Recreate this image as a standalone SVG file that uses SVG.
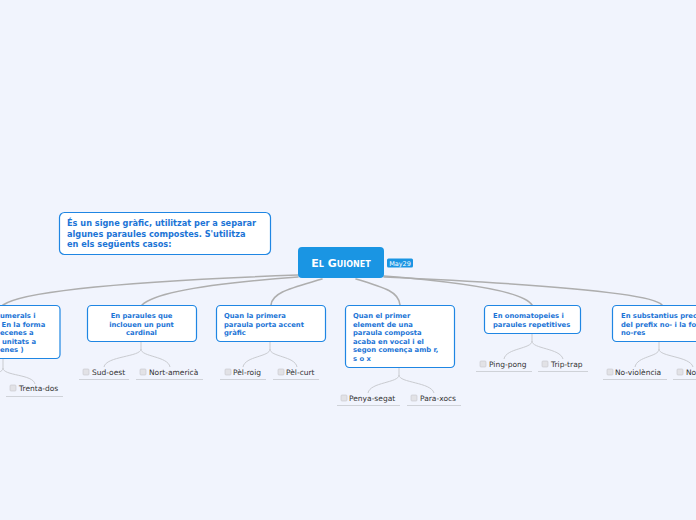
<svg xmlns="http://www.w3.org/2000/svg" width="696" height="520" viewBox="0 0 696 520">
<style>
.bg{fill:#f1f4fd}
.box{fill:#ffffff;stroke:#1f86e3;stroke-width:1.2}
.t{font-family:"DejaVu Sans",Verdana,sans-serif;font-weight:bold;font-size:6.8px;fill:#1b74d6}
.d{font-family:"DejaVu Sans",Verdana,sans-serif;font-weight:bold;font-size:8.2px;fill:#1b74d6}
.lf{font-family:"DejaVu Sans",Verdana,sans-serif;font-size:7.5px;fill:#333333}
.cb{fill:#e2e2e6;stroke:#c8c8cc;stroke-width:0.6}
.ul{stroke:#cfd2d8;stroke-width:1}
.main{fill:none;stroke:#aeaeae;stroke-width:1.6;stroke-linecap:round}
.sub{fill:none;stroke:#c9cbd0;stroke-width:1}
</style>
<rect class="bg" x="0" y="0" width="696" height="520"/>
<g id="connectors">
<path class="main" d="M298,275 Q30,285 3,305"/>
<path class="main" d="M298,277 Q160,287 142,305"/>
<path class="main" d="M322,279 C292,288 272,292 271,305"/>
<path class="main" d="M356,279 C386,288 399,292 400,305"/>
<path class="main" d="M384,276 Q522,287 532,305"/>
<path class="main" d="M384,277 Q650,289 662,305"/>
<path class="sub" d="M3,358 L3,368 C3,376 33,374 35,384"/>
<path class="sub" d="M3,368 C3,376 -25,374 -28,384"/>
<path class="sub" d="M141,341 L141,349 C141,357 106,356 104,367"/>
<path class="sub" d="M141,349 C141,357 168,356 170,367"/>
<path class="sub" d="M270,341 L270,349 C270,357 245,356 243,367"/>
<path class="sub" d="M270,349 C270,357 295,356 297,367"/>
<path class="sub" d="M399,367 L399,375 C399,383 370,382 368,393"/>
<path class="sub" d="M399,375 C399,383 431,382 434,393"/>
<path class="sub" d="M532,333 L532,341 C532,349 506,348 504,359"/>
<path class="sub" d="M532,341 C532,349 560,348 563,359"/>
<path class="sub" d="M659,341 L659,349 C659,357 637,356 635,367"/>
<path class="sub" d="M659,349 C659,357 690,356 693,367"/>
</g>
<g id="desc">
<rect class="box" x="59.5" y="212.5" width="211" height="42" rx="5"/>
<text class="d" x="67" y="226">És un signe gràfic, utilitzat per a separar</text>
<text class="d" x="67" y="236.5">algunes paraules compostes. S'utilitza</text>
<text class="d" x="67" y="247">en els següents casos:</text>
</g>
<g id="central">
<rect x="298" y="247" width="86" height="31" rx="4" fill="#1a95e3"/>
<text x="341" y="267" text-anchor="middle" font-family="'DejaVu Sans',Verdana,sans-serif" font-weight="bold" font-size="11" font-variant="small-caps" fill="#ffffff">El Guionet</text>
<rect x="387" y="258.5" width="26" height="9" rx="1.5" fill="#1a95e3"/>
<text x="400" y="265.7" text-anchor="middle" font-family="'DejaVu Sans',Verdana,sans-serif" font-size="6.5" fill="#ffffff">May29</text>
</g>
<g id="n1">
<rect class="box" x="-60" y="305.5" width="120" height="53" rx="4"/>
<text class="t" x="0" y="318">umerals i</text>
<text class="t" x="1.5" y="326.5">En la forma</text>
<text class="t" x="0" y="335">ecenes a</text>
<text class="t" x="2" y="343.5">unitats a</text>
<text class="t" x="0" y="352">enes )</text>
</g>
<g id="n1a">
<rect class="cb" x="10" y="385" width="6" height="6" rx="1"/>
<text class="lf" x="19" y="391">Trenta-dos</text>
<line class="ul" x1="6" y1="396.5" x2="63" y2="396.5"/>
</g>
<g id="n2">
<rect class="box" x="87.5" y="305.5" width="109" height="36" rx="4"/>
<text class="t" x="141.5" y="318" text-anchor="middle">En paraules que</text>
<text class="t" x="141.5" y="326.5" text-anchor="middle">inclouen un punt</text>
<text class="t" x="141.5" y="335" text-anchor="middle">cardinal</text>
</g>
<g id="n2a">
<rect class="cb" x="83" y="369" width="6" height="6" rx="1"/>
<text class="lf" x="92" y="375">Sud-oest</text>
<line class="ul" x1="79" y1="379.5" x2="129" y2="379.5"/>
</g>
<g id="n2b">
<rect class="cb" x="140" y="369" width="6" height="6" rx="1"/>
<text class="lf" x="149" y="375">Nort-americà</text>
<line class="ul" x1="136" y1="379.5" x2="203" y2="379.5"/>
</g>
<g id="n3">
<rect class="box" x="216.5" y="305.5" width="109" height="36" rx="4"/>
<text class="t" x="224" y="318">Quan la primera</text>
<text class="t" x="224" y="326.5">paraula porta accent</text>
<text class="t" x="224" y="335">gràfic</text>
</g>
<g id="n3a">
<rect class="cb" x="225" y="369" width="6" height="6" rx="1"/>
<text class="lf" x="233" y="375">Pèl-roig</text>
<line class="ul" x1="220" y1="379.5" x2="266" y2="379.5"/>
</g>
<g id="n3b">
<rect class="cb" x="278" y="369" width="6" height="6" rx="1"/>
<text class="lf" x="286" y="375">Pèl-curt</text>
<line class="ul" x1="273" y1="379.5" x2="319" y2="379.5"/>
</g>
<g id="n4">
<rect class="box" x="345.5" y="305.5" width="109" height="62" rx="4"/>
<text class="t" x="353" y="318">Quan el primer</text>
<text class="t" x="353" y="326.5">element de una</text>
<text class="t" x="353" y="335">paraula composta</text>
<text class="t" x="353" y="343.5">acaba en vocal i el</text>
<text class="t" x="353" y="352">segon comença amb r,</text>
<text class="t" x="353" y="360.5">s o x</text>
</g>
<g id="n4a">
<rect class="cb" x="341" y="395" width="6" height="6" rx="1"/>
<text class="lf" x="349" y="401">Penya-segat</text>
<line class="ul" x1="337" y1="405.5" x2="400" y2="405.5"/>
</g>
<g id="n4b">
<rect class="cb" x="411" y="395" width="6" height="6" rx="1"/>
<text class="lf" x="420" y="401">Para-xocs</text>
<line class="ul" x1="407" y1="405.5" x2="461" y2="405.5"/>
</g>
<g id="n5">
<rect class="box" x="484.5" y="305.5" width="96" height="28" rx="4"/>
<text class="t" x="493" y="318">En onomatopeies i</text>
<text class="t" x="493" y="326.5">paraules repetitives</text>
</g>
<g id="n5a">
<rect class="cb" x="480" y="361" width="6" height="6" rx="1"/>
<text class="lf" x="489" y="367">Ping-pong</text>
<line class="ul" x1="476" y1="371.5" x2="532" y2="371.5"/>
</g>
<g id="n5b">
<rect class="cb" x="542" y="361" width="6" height="6" rx="1"/>
<text class="lf" x="551" y="367">Trip-trap</text>
<line class="ul" x1="538" y1="371.5" x2="588" y2="371.5"/>
</g>
<g id="n6">
<rect class="box" x="612.5" y="305.5" width="120" height="36" rx="4"/>
<text class="t" x="621" y="318">En substantius prec</text>
<text class="t" x="621" y="326.5">del prefix no- i la fo</text>
<text class="t" x="621" y="335">no-res</text>
</g>
<g id="n6a">
<rect class="cb" x="607" y="369" width="6" height="6" rx="1"/>
<text class="lf" x="615" y="375">No-violència</text>
<line class="ul" x1="603" y1="379.5" x2="667" y2="379.5"/>
</g>
<g id="n6b">
<rect class="cb" x="677" y="369" width="6" height="6" rx="1"/>
<text class="lf" x="686" y="375">No</text>
<line class="ul" x1="673" y1="379.5" x2="700" y2="379.5"/>
</g>
</svg>
